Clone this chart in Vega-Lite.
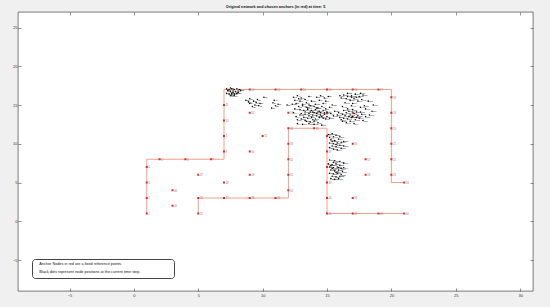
{
  "$schema": "https://vega.github.io/schema/vega-lite/v6.json",
  "width": 515,
  "height": 279,
  "autosize": "none",
  "padding": {"left": 18, "top": 12, "right": 17, "bottom": 16},
  "background": "#f0f0f0",
  "view": {"fill": "#ffffff", "stroke": "#262626", "strokeWidth": 0.6},
  "config": {
    "font": "Liberation Sans",
    "axis": {"domain": false, "grid": false, "tickColor": "#262626", "tickWidth": 0.5, "labelColor": "#333333", "labelFontSize": 4, "labelFont": "Liberation Sans", "title": null}
  },
  "title": {"text": "Original network and chosen anchors (in red) at time: 5", "fontSize": 3.8, "fontWeight": "bold", "anchor": "middle", "offset": 2.5, "color": "#111111", "font": "Liberation Sans"},
  "datasets": {
    "paths": [
      {"p": "A", "o": 1, "x": 1, "y": 1}, {"p": "A", "o": 2, "x": 1, "y": 8}, {"p": "A", "o": 3, "x": 7, "y": 8}, {"p": "A", "o": 4, "x": 7, "y": 17}, {"p": "A", "o": 5, "x": 20, "y": 17}, {"p": "A", "o": 6, "x": 20, "y": 5}, {"p": "A", "o": 7, "x": 21, "y": 5},
      {"p": "B", "o": 1, "x": 5, "y": 1}, {"p": "B", "o": 2, "x": 5, "y": 3}, {"p": "B", "o": 3, "x": 12, "y": 3}, {"p": "B", "o": 4, "x": 12, "y": 12}, {"p": "B", "o": 5, "x": 15, "y": 12}, {"p": "B", "o": 6, "x": 15, "y": 1}, {"p": "B", "o": 7, "x": 21, "y": 1}
    ],
    "anchors": [
      {"x": 1, "y": 1}, {"x": 1, "y": 3}, {"x": 1, "y": 5}, {"x": 1, "y": 7}, {"x": 2, "y": 8}, {"x": 4, "y": 8}, {"x": 6, "y": 8},
      {"x": 7, "y": 9}, {"x": 7, "y": 11}, {"x": 7, "y": 13}, {"x": 7, "y": 15}, {"x": 9, "y": 17}, {"x": 11, "y": 17}, {"x": 13, "y": 17},
      {"x": 15, "y": 17}, {"x": 17, "y": 17}, {"x": 19, "y": 17}, {"x": 20, "y": 16}, {"x": 20, "y": 14}, {"x": 20, "y": 12}, {"x": 20, "y": 10},
      {"x": 20, "y": 8}, {"x": 20, "y": 6}, {"x": 21, "y": 5}, {"x": 5, "y": 1}, {"x": 5, "y": 3}, {"x": 7, "y": 3}, {"x": 9, "y": 3},
      {"x": 11, "y": 3}, {"x": 12, "y": 4}, {"x": 12, "y": 6}, {"x": 12, "y": 8}, {"x": 12, "y": 10}, {"x": 12, "y": 12}, {"x": 14, "y": 12},
      {"x": 15, "y": 11}, {"x": 15, "y": 9}, {"x": 15, "y": 7}, {"x": 15, "y": 5}, {"x": 15, "y": 3}, {"x": 15, "y": 1}, {"x": 17, "y": 1},
      {"x": 19, "y": 1}, {"x": 21, "y": 1}, {"x": 3, "y": 2}, {"x": 3, "y": 4}, {"x": 5, "y": 6}, {"x": 7, "y": 5}, {"x": 9, "y": 6},
      {"x": 9, "y": 9}, {"x": 10, "y": 11}, {"x": 9, "y": 14}, {"x": 12, "y": 14}, {"x": 15, "y": 14}, {"x": 17, "y": 14}, {"x": 17, "y": 10},
      {"x": 18, "y": 8}, {"x": 18, "y": 6}, {"x": 17, "y": 3}
    ],
    "nodes": [
      {"x": 7.2, "y": 17.1}, {"x": 7.4, "y": 17.0}, {"x": 7.6, "y": 17.1}, {"x": 7.8, "y": 17.0}, {"x": 8.0, "y": 17.1}, {"x": 8.2, "y": 17.0},
      {"x": 7.3, "y": 16.8}, {"x": 7.5, "y": 16.7}, {"x": 7.7, "y": 16.8}, {"x": 7.9, "y": 16.7}, {"x": 8.1, "y": 16.8}, {"x": 7.2, "y": 16.5},
      {"x": 7.4, "y": 16.4}, {"x": 7.6, "y": 16.5}, {"x": 7.8, "y": 16.4}, {"x": 8.0, "y": 16.5}, {"x": 7.5, "y": 16.2}, {"x": 7.8, "y": 16.2},
      {"x": 7.3, "y": 16.9}, {"x": 7.7, "y": 16.6}, {"x": 8.1, "y": 16.6}, {"x": 7.5, "y": 17.2}, {"x": 8.3, "y": 16.9}, {"x": 7.6, "y": 16.3},
      {"x": 8.7, "y": 15.6}, {"x": 9.0, "y": 15.8}, {"x": 9.3, "y": 15.5}, {"x": 9.6, "y": 15.7}, {"x": 9.0, "y": 15.2}, {"x": 9.4, "y": 15.0},
      {"x": 9.8, "y": 15.2}, {"x": 9.2, "y": 14.8}, {"x": 10.1, "y": 16.0}, {"x": 10.8, "y": 15.3}, {"x": 11.0, "y": 14.9}, {"x": 11.2, "y": 15.1},
      {"x": 10.7, "y": 14.6}, {"x": 11.9, "y": 15.0}, {"x": 8.9, "y": 15.4}, {"x": 9.5, "y": 15.3}, {"x": 10.9, "y": 15.6}, {"x": 9.7, "y": 14.9},
      {"x": 12.4, "y": 16.0}, {"x": 12.7, "y": 16.2}, {"x": 13.0, "y": 15.9}, {"x": 12.5, "y": 15.6}, {"x": 12.9, "y": 15.5}, {"x": 13.3, "y": 15.7},
      {"x": 13.6, "y": 16.1}, {"x": 12.6, "y": 15.2}, {"x": 13.1, "y": 15.1}, {"x": 14.2, "y": 16.0}, {"x": 14.5, "y": 16.2}, {"x": 14.8, "y": 15.9},
      {"x": 15.1, "y": 16.1}, {"x": 14.4, "y": 15.6}, {"x": 14.9, "y": 15.5}, {"x": 12.8, "y": 15.8}, {"x": 13.4, "y": 15.3}, {"x": 14.7, "y": 15.2},
      {"x": 12.8, "y": 14.8}, {"x": 13.1, "y": 14.9}, {"x": 13.4, "y": 14.7}, {"x": 13.7, "y": 14.9}, {"x": 14.0, "y": 14.8}, {"x": 14.3, "y": 14.6},
      {"x": 14.6, "y": 14.8}, {"x": 14.9, "y": 14.5}, {"x": 15.2, "y": 14.7}, {"x": 12.9, "y": 14.4}, {"x": 13.2, "y": 14.3}, {"x": 13.5, "y": 14.4},
      {"x": 13.8, "y": 14.3}, {"x": 14.1, "y": 14.4}, {"x": 14.4, "y": 14.2}, {"x": 14.7, "y": 14.3}, {"x": 15.0, "y": 14.1}, {"x": 13.0, "y": 13.9},
      {"x": 13.3, "y": 13.8}, {"x": 13.6, "y": 13.9}, {"x": 13.9, "y": 13.7}, {"x": 14.2, "y": 13.9}, {"x": 14.5, "y": 13.7}, {"x": 14.8, "y": 13.8},
      {"x": 13.2, "y": 13.4}, {"x": 13.5, "y": 13.3}, {"x": 13.8, "y": 13.4}, {"x": 14.1, "y": 13.2}, {"x": 14.4, "y": 13.4}, {"x": 14.7, "y": 13.3},
      {"x": 15.0, "y": 13.5}, {"x": 13.4, "y": 12.9}, {"x": 13.7, "y": 12.8}, {"x": 14.0, "y": 12.9}, {"x": 14.3, "y": 12.7}, {"x": 12.6, "y": 13.5},
      {"x": 12.4, "y": 14.0}, {"x": 15.3, "y": 13.9}, {"x": 12.7, "y": 12.6}, {"x": 13.1, "y": 12.5}, {"x": 14.6, "y": 12.4},
      {"x": 13.3, "y": 14.1}, {"x": 13.9, "y": 14.1}, {"x": 14.5, "y": 14.0}, {"x": 13.6, "y": 13.6}, {"x": 14.2, "y": 13.6}, {"x": 13.9, "y": 13.1},
      {"x": 13.5, "y": 14.6}, {"x": 14.2, "y": 14.6}, {"x": 14.8, "y": 14.0},
      {"x": 12.7, "y": 13.1}, {"x": 12.9, "y": 13.7}, {"x": 13.0, "y": 13.2}, {"x": 13.3, "y": 13.0}, {"x": 13.7, "y": 14.1}, {"x": 14.0, "y": 14.0},
      {"x": 14.3, "y": 14.1}, {"x": 14.6, "y": 13.5}, {"x": 14.9, "y": 13.2}, {"x": 15.2, "y": 13.3}, {"x": 15.5, "y": 13.6}, {"x": 15.6, "y": 14.2},
      {"x": 15.4, "y": 15.0}, {"x": 13.6, "y": 15.0}, {"x": 14.1, "y": 15.1}, {"x": 13.8, "y": 15.5}, {"x": 14.0, "y": 12.5}, {"x": 13.6, "y": 12.6},
      {"x": 12.5, "y": 14.5}, {"x": 12.3, "y": 15.1},
      {"x": 16.3, "y": 16.3}, {"x": 16.6, "y": 16.5}, {"x": 16.9, "y": 16.2}, {"x": 17.2, "y": 16.4}, {"x": 17.5, "y": 16.1}, {"x": 17.8, "y": 16.3},
      {"x": 16.1, "y": 15.9}, {"x": 16.5, "y": 15.8}, {"x": 16.8, "y": 15.6}, {"x": 17.1, "y": 15.8}, {"x": 17.4, "y": 15.5}, {"x": 17.7, "y": 15.7},
      {"x": 16.4, "y": 15.3}, {"x": 17.0, "y": 15.2}, {"x": 16.2, "y": 14.8}, {"x": 16.9, "y": 14.9}, {"x": 17.6, "y": 14.7}, {"x": 18.0, "y": 14.5},
      {"x": 16.6, "y": 14.5}, {"x": 15.9, "y": 14.0}, {"x": 16.2, "y": 13.8}, {"x": 16.5, "y": 14.0}, {"x": 16.8, "y": 13.7}, {"x": 17.1, "y": 13.9},
      {"x": 17.4, "y": 13.6}, {"x": 17.7, "y": 13.8}, {"x": 18.0, "y": 13.5}, {"x": 18.3, "y": 13.7}, {"x": 16.0, "y": 13.4}, {"x": 16.3, "y": 13.3},
      {"x": 16.6, "y": 13.2}, {"x": 16.9, "y": 13.4}, {"x": 17.2, "y": 13.1}, {"x": 17.5, "y": 13.3}, {"x": 17.8, "y": 13.0}, {"x": 16.2, "y": 12.9},
      {"x": 16.5, "y": 12.7}, {"x": 16.8, "y": 12.9}, {"x": 17.1, "y": 12.6}, {"x": 18.5, "y": 14.2}, {"x": 18.6, "y": 15.0},
      {"x": 16.4, "y": 13.6}, {"x": 17.0, "y": 13.5}, {"x": 17.3, "y": 14.1}, {"x": 16.7, "y": 14.2}, {"x": 16.9, "y": 16.0}, {"x": 17.3, "y": 16.0},
      {"x": 16.1, "y": 13.1}, {"x": 16.7, "y": 13.5}, {"x": 17.3, "y": 13.4}, {"x": 17.6, "y": 14.1}, {"x": 17.9, "y": 14.9}, {"x": 18.2, "y": 15.5},
      {"x": 16.0, "y": 16.2}, {"x": 16.6, "y": 16.1}, {"x": 17.6, "y": 16.5}, {"x": 16.3, "y": 14.3}, {"x": 17.0, "y": 14.4}, {"x": 15.8, "y": 13.7},
      {"x": 15.2, "y": 10.8}, {"x": 15.5, "y": 10.9}, {"x": 15.3, "y": 10.5}, {"x": 15.6, "y": 10.4}, {"x": 15.9, "y": 10.6}, {"x": 15.2, "y": 10.1},
      {"x": 15.5, "y": 10.0}, {"x": 15.8, "y": 10.1}, {"x": 16.1, "y": 10.2}, {"x": 15.4, "y": 9.7}, {"x": 15.7, "y": 9.6}, {"x": 16.0, "y": 9.8},
      {"x": 16.3, "y": 9.7}, {"x": 15.5, "y": 9.3}, {"x": 15.8, "y": 9.2}, {"x": 16.1, "y": 9.4}, {"x": 15.4, "y": 10.3}, {"x": 15.7, "y": 9.9},
      {"x": 15.1, "y": 11.2}, {"x": 15.4, "y": 11.3}, {"x": 15.7, "y": 11.1}, {"x": 16.0, "y": 10.9}, {"x": 16.3, "y": 10.3}, {"x": 15.2, "y": 9.5},
      {"x": 15.2, "y": 7.9}, {"x": 15.6, "y": 7.8}, {"x": 16.0, "y": 7.7}, {"x": 15.1, "y": 7.4}, {"x": 15.4, "y": 7.3}, {"x": 15.7, "y": 7.4},
      {"x": 16.0, "y": 7.2}, {"x": 15.2, "y": 7.0}, {"x": 15.5, "y": 6.9}, {"x": 15.8, "y": 7.0}, {"x": 16.1, "y": 6.8}, {"x": 15.3, "y": 6.6},
      {"x": 15.6, "y": 6.5}, {"x": 15.9, "y": 6.6}, {"x": 16.2, "y": 6.4}, {"x": 15.2, "y": 6.2}, {"x": 15.5, "y": 6.1}, {"x": 15.8, "y": 6.2},
      {"x": 16.1, "y": 6.0}, {"x": 15.4, "y": 5.8}, {"x": 15.7, "y": 5.7}, {"x": 16.0, "y": 5.8}, {"x": 15.3, "y": 5.5}, {"x": 15.6, "y": 5.4},
      {"x": 15.4, "y": 6.8}, {"x": 15.7, "y": 6.3}, {"x": 15.3, "y": 7.2}, {"x": 15.9, "y": 6.9}, {"x": 16.3, "y": 7.5}, {"x": 15.5, "y": 7.6},
      {"x": 16.3, "y": 6.9}, {"x": 15.9, "y": 5.5}
    ],
    "notes": [
      {"note": "Anchor Nodes in red are a fixed reference points."},
      {"note": "Black dots represent node positions at the current time step."}
    ]
  },
  "layer": [
    {
      "data": {"name": "paths"},
      "mark": {"type": "line", "color": "#f2a08a", "strokeWidth": 1, "interpolate": "linear"},
      "encoding": {
        "x": {"field": "x", "type": "quantitative", "scale": {"domain": [-9, 31], "nice": false, "zero": false},
              "axis": {"orient": "bottom", "values": [-5, 0, 5, 10, 15, 20, 25, 30], "tickSize": -3, "labelPadding": 5}},
        "y": {"field": "y", "type": "quantitative", "scale": {"domain": [-9, 27], "nice": false, "zero": false},
              "axis": {"orient": "left", "values": [-5, 0, 5, 10, 15, 20, 25], "tickSize": -3, "labelPadding": 4}},
        "detail": {"field": "p"},
        "order": {"field": "o"}
      }
    },
    {
      "data": {"name": "anchors"},
      "transform": [{"window": [{"op": "row_number", "as": "id"}]}],
      "mark": {"type": "text", "align": "left", "baseline": "middle", "dx": 1.5, "fontSize": 2.8, "color": "#888888"},
      "encoding": {
        "x": {"field": "x", "type": "quantitative", "axis": null},
        "y": {"field": "y", "type": "quantitative", "axis": null},
        "text": {"field": "id", "type": "quantitative"}
      }
    },
    {
      "data": {"name": "anchors"},
      "mark": {"type": "square", "color": "#e8262b", "filled": true, "size": 4, "opacity": 1},
      "encoding": {
        "x": {"field": "x", "type": "quantitative", "axis": {"orient": "top", "values": [-5, 0, 5, 10, 15, 20, 25, 30], "tickSize": -3, "labels": false}},
        "y": {"field": "y", "type": "quantitative", "axis": {"orient": "right", "values": [-5, 0, 5, 10, 15, 20, 25], "tickSize": -3, "labels": false}}
      }
    },
    {
      "data": {"name": "nodes"},
      "transform": [{"window": [{"op": "row_number", "as": "id"}]}],
      "mark": {"type": "text", "align": "left", "baseline": "middle", "dx": 0.8, "fontSize": 2.2, "color": "#111111"},
      "encoding": {
        "x": {"field": "x", "type": "quantitative", "axis": null},
        "y": {"field": "y", "type": "quantitative", "axis": null},
        "text": {"field": "id", "type": "quantitative"}
      }
    },
    {
      "data": {"name": "nodes"},
      "mark": {"type": "circle", "fill": "#000000", "stroke": null, "size": 2.5, "opacity": 1},
      "encoding": {
        "x": {"field": "x", "type": "quantitative", "axis": null},
        "y": {"field": "y", "type": "quantitative", "axis": null}
      }
    },
    {
      "data": {"name": "notes"},
      "mark": {"type": "point", "opacity": 0},
      "encoding": {
        "color": {"field": "note", "type": "nominal", "sort": null, "scale": {"range": ["#ffffff", "#ffffff"]},
          "legend": {"title": "\u00a0", "titleOrient": "right", "titlePadding": 30, "orient": "none", "legendX": 14, "legendY": 247,
            "symbolOpacity": 0, "symbolSize": 0, "symbolFillColor": "transparent", "symbolStrokeColor": "transparent", "symbolStrokeWidth": 0, "labelOffset": 0,
            "labelFontSize": 3.8, "labelColor": "#111111", "labelLimit": 400, "strokeColor": "#444444", "fillColor": "#ffffff", "cornerRadius": 3, "padding": 3.5, "rowPadding": 2.5}}
      }
    }
  ]
}
